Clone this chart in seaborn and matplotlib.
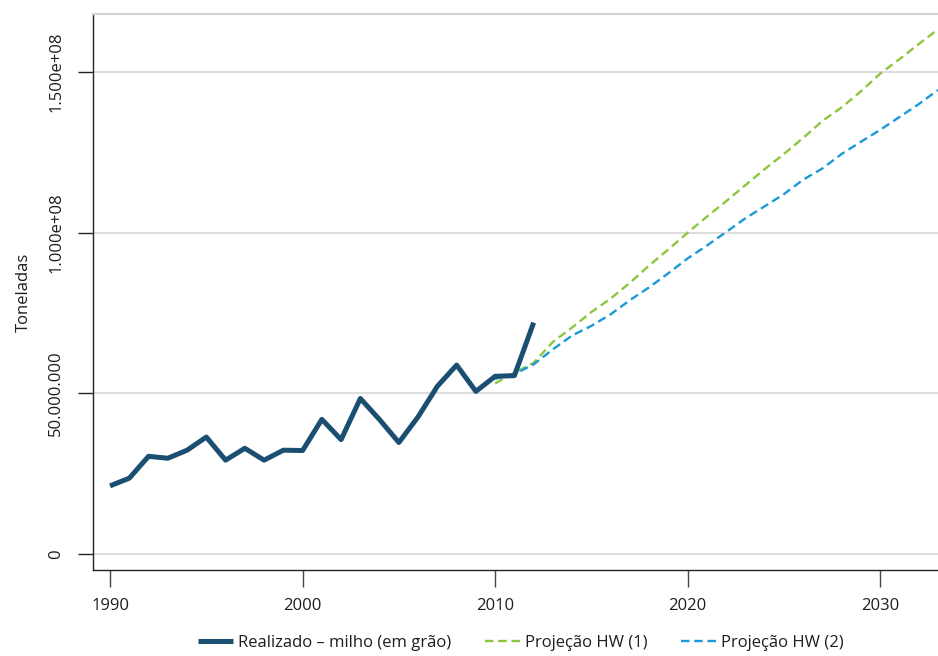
import numpy as np
import pandas as pd
import matplotlib
matplotlib.use("Agg")
import matplotlib.pyplot as plt
import seaborn as sns

# Produção observada de milho (toneladas), 1990-2012
anos_real = list(range(1990, 2013))
realizado = [21.2e6, 23.6e6, 30.4e6, 29.8e6, 32.3e6, 36.4e6, 29.2e6, 32.9e6,
             29.2e6, 32.3e6, 32.2e6, 41.9e6, 35.6e6, 48.4e6, 41.8e6, 34.7e6,
             42.7e6, 52.2e6, 58.8e6, 50.6e6, 55.3e6, 55.5e6, 72.0e6]

# Projeções Holt-Winters, 2010-2033
anos_proj = list(range(2010, 2034))
proj_hw1 = [53.1e6, 56.4e6, 59.5e6, 66.0e6, 70.5e6, 75.3e6, 79.5e6, 84.4e6,
            89.8e6, 94.8e6, 100.0e6, 105.0e6, 109.8e6, 114.8e6, 119.8e6, 124.5e6,
            129.5e6, 134.8e6, 139.0e6, 144.0e6, 149.5e6, 154.0e6, 158.7e6, 163.3e6]
proj_hw2 = [54.5e6, 56.0e6, 59.0e6, 63.7e6, 68.0e6, 71.0e6, 74.6e6, 79.0e6,
            83.0e6, 87.4e6, 92.0e6, 96.0e6, 100.2e6, 104.5e6, 108.2e6, 112.0e6,
            116.5e6, 120.0e6, 124.5e6, 128.3e6, 132.0e6, 136.0e6, 140.0e6, 144.4e6]

y_ticks = [0, 50e6, 100e6, 150e6]
y_tick_labels = ["0", "50.000.000", "1.000e+08", "1.500e+08"]
x_ticks = [1990, 2000, 2010, 2020, 2030]

sns.set_theme(style="white")
plt.rcParams["font.family"] = ["Open Sans", "DejaVu Sans"]

FS = 12
TXT = "#1e1e1e"

df_real = pd.DataFrame({"ano": anos_real, "t": realizado})
df_p1 = pd.DataFrame({"ano": anos_proj, "t": proj_hw1})
df_p2 = pd.DataFrame({"ano": anos_proj, "t": proj_hw2})

fig = plt.figure(figsize=(9.38, 6.56), dpi=100)
ax = fig.add_axes([93.3 / 938, 86 / 656, 1 - 93.3 / 938, (570 - 14) / 656])

for yv in y_ticks:
    ax.axhline(yv, color="#d3d3d3", lw=1.1, zorder=0)

sns.lineplot(data=df_p1, x="ano", y="t", ax=ax, color="#8cc63f", lw=1.7,
             label="Projeção HW (1)", zorder=2)
sns.lineplot(data=df_p2, x="ano", y="t", ax=ax, color="#1a9ad6", lw=1.7,
             label="Projeção HW (2)", zorder=2)
sns.lineplot(data=df_real, x="ano", y="t", ax=ax, color="#1b4f72", lw=3.6,
             label="Realizado – milho (em grão)", zorder=3)
line_p1, line_p2, line_real = ax.lines[-3], ax.lines[-2], ax.lines[-1]
line_p1.set_linestyle((0, (3.6, 2.0)))
line_p2.set_linestyle((0, (3.6, 2.0)))
line_real.set_solid_capstyle("butt")

ax.set_xlim(1989.13, 2033.0)
ax.set_ylim(-4.98e6, 168.05e6)

ax.set_yticks(y_ticks)
ax.set_yticklabels(y_tick_labels, rotation=90, va="center")
ax.set_xticks(x_ticks)
ax.set_xticklabels([str(x) for x in x_ticks])
ax.tick_params(axis="y", direction="out", length=11, width=1.0, color="#222222",
               pad=10, labelsize=FS, labelcolor=TXT)
ax.tick_params(axis="x", direction="out", length=12.5, width=1.0, color="#444444",
               pad=8, labelsize=FS, labelcolor=TXT)
ax.tick_params(left=True, bottom=True)

ax.set_xlabel("")
ax.set_ylabel("Toneladas", fontsize=FS, color=TXT, labelpad=12)

for side in ["left", "bottom"]:
    ax.spines[side].set_color("#222222")
    ax.spines[side].set_linewidth(1.0)
ax.spines["top"].set_color("#d3d3d3")
ax.spines["top"].set_linewidth(1.6)
ax.spines["right"].set_visible(False)

handles, labels = ax.get_legend_handles_labels()
order = [labels.index("Realizado – milho (em grão)"), labels.index("Projeção HW (1)"),
         labels.index("Projeção HW (2)")]
ax.legend([handles[i] for i in order], [labels[i] for i in order],
          loc="center", bbox_to_anchor=(0.506, -0.131),
          ncol=3, frameon=False, fontsize=FS, handlelength=2.1, handletextpad=0.3,
          columnspacing=2.0, labelcolor=TXT)

fig.savefig("out.png", dpi=100)
